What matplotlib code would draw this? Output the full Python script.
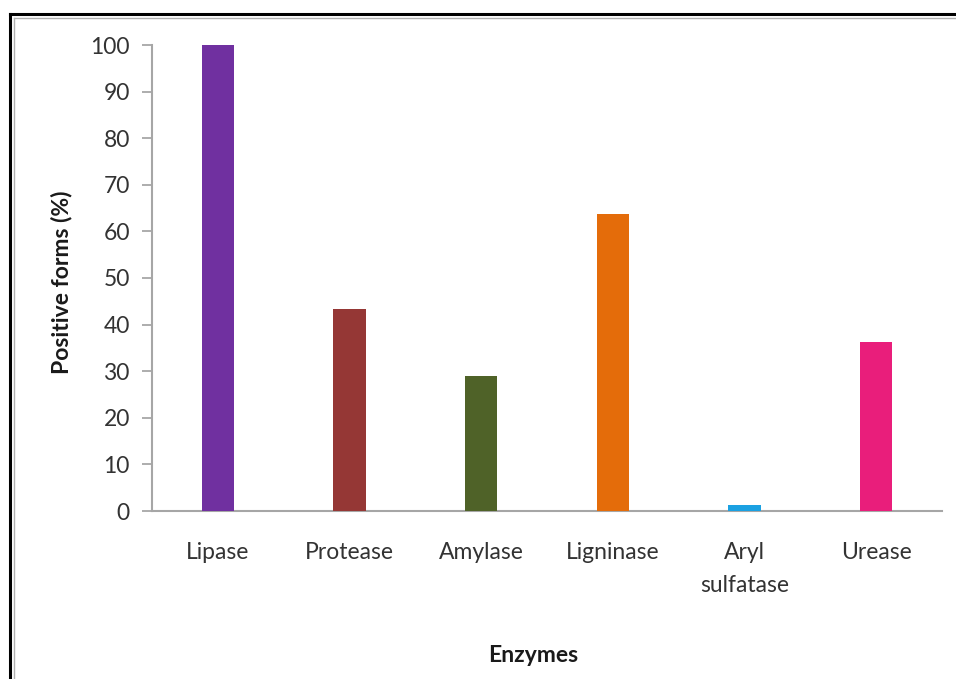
import matplotlib
matplotlib.use("Agg")
import matplotlib.pyplot as plt
from matplotlib.lines import Line2D

categories = ["Lipase", "Protease", "Amylase", "Ligninase", "Aryl\nsulfatase", "Urease"]
values = [100, 43.3, 29.0, 63.8, 1.2, 36.3]
colors = ["#7030A0", "#953735", "#4F6228", "#E46C0A", "#1BA1E2", "#E91E7B"]
yticks = [0, 10, 20, 30, 40, 50, 60, 70, 80, 90, 100]

plt.rcParams['font.family'] = ['Lato', 'DejaVu Sans']

W, H = 956, 679
fig = plt.figure(figsize=(W/100, H/100), dpi=100)
fig.patch.set_facecolor("white")

ax = fig.add_axes([152/W, 1-511/H, (942-152)/W, (511-45)/H])
x = list(range(len(categories)))
ax.bar(x, values, width=0.245, color=colors, zorder=3)
ax.set_xlim(-0.5, 5.5)
ax.set_ylim(0, 100)
ax.set_yticks(yticks)
ax.set_xticks(x)
ax.set_xticklabels(categories, fontsize=16.5, color="#333333", linespacing=1.75)
ax.tick_params(axis='y', labelsize=16.5, labelcolor="#333333", length=7, color="#a0a0a0", width=1.2, pad=9)
ax.tick_params(axis='x', length=0, pad=22)
for s in ["top", "right"]:
    ax.spines[s].set_visible(False)
for s in ["left", "bottom"]:
    ax.spines[s].set_color("#a6a6a6")
    ax.spines[s].set_linewidth(1.5)
for lbl in ax.get_xticklabels():
    lbl.set_verticalalignment("top")

fig.text(533/W, 1-655/H, "Enzymes", ha="center", va="center", fontsize=16.5, fontweight="bold", color="#1a1a1a")
fig.text(62/W, 1-282/H, "Positive forms (%)", ha="center", va="center", rotation=90, fontsize=16.5, fontweight="bold", color="#1a1a1a")

# frame border
fig.add_artist(Line2D([10/W, 10/W], [0, 1-14/H], transform=fig.transFigure, color="black", linewidth=2.2))
fig.add_artist(Line2D([10/W, 1], [1-14/H, 1-14/H], transform=fig.transFigure, color="black", linewidth=2.2))
fig.add_artist(Line2D([13.5/W, 13.5/W], [0, 1-17.5/H], transform=fig.transFigure, color="#b0b0b0", linewidth=1.0))
fig.add_artist(Line2D([13.5/W, 1], [1-17.5/H, 1-17.5/H], transform=fig.transFigure, color="#b0b0b0", linewidth=1.0))

fig.savefig("out.png", dpi=100)
